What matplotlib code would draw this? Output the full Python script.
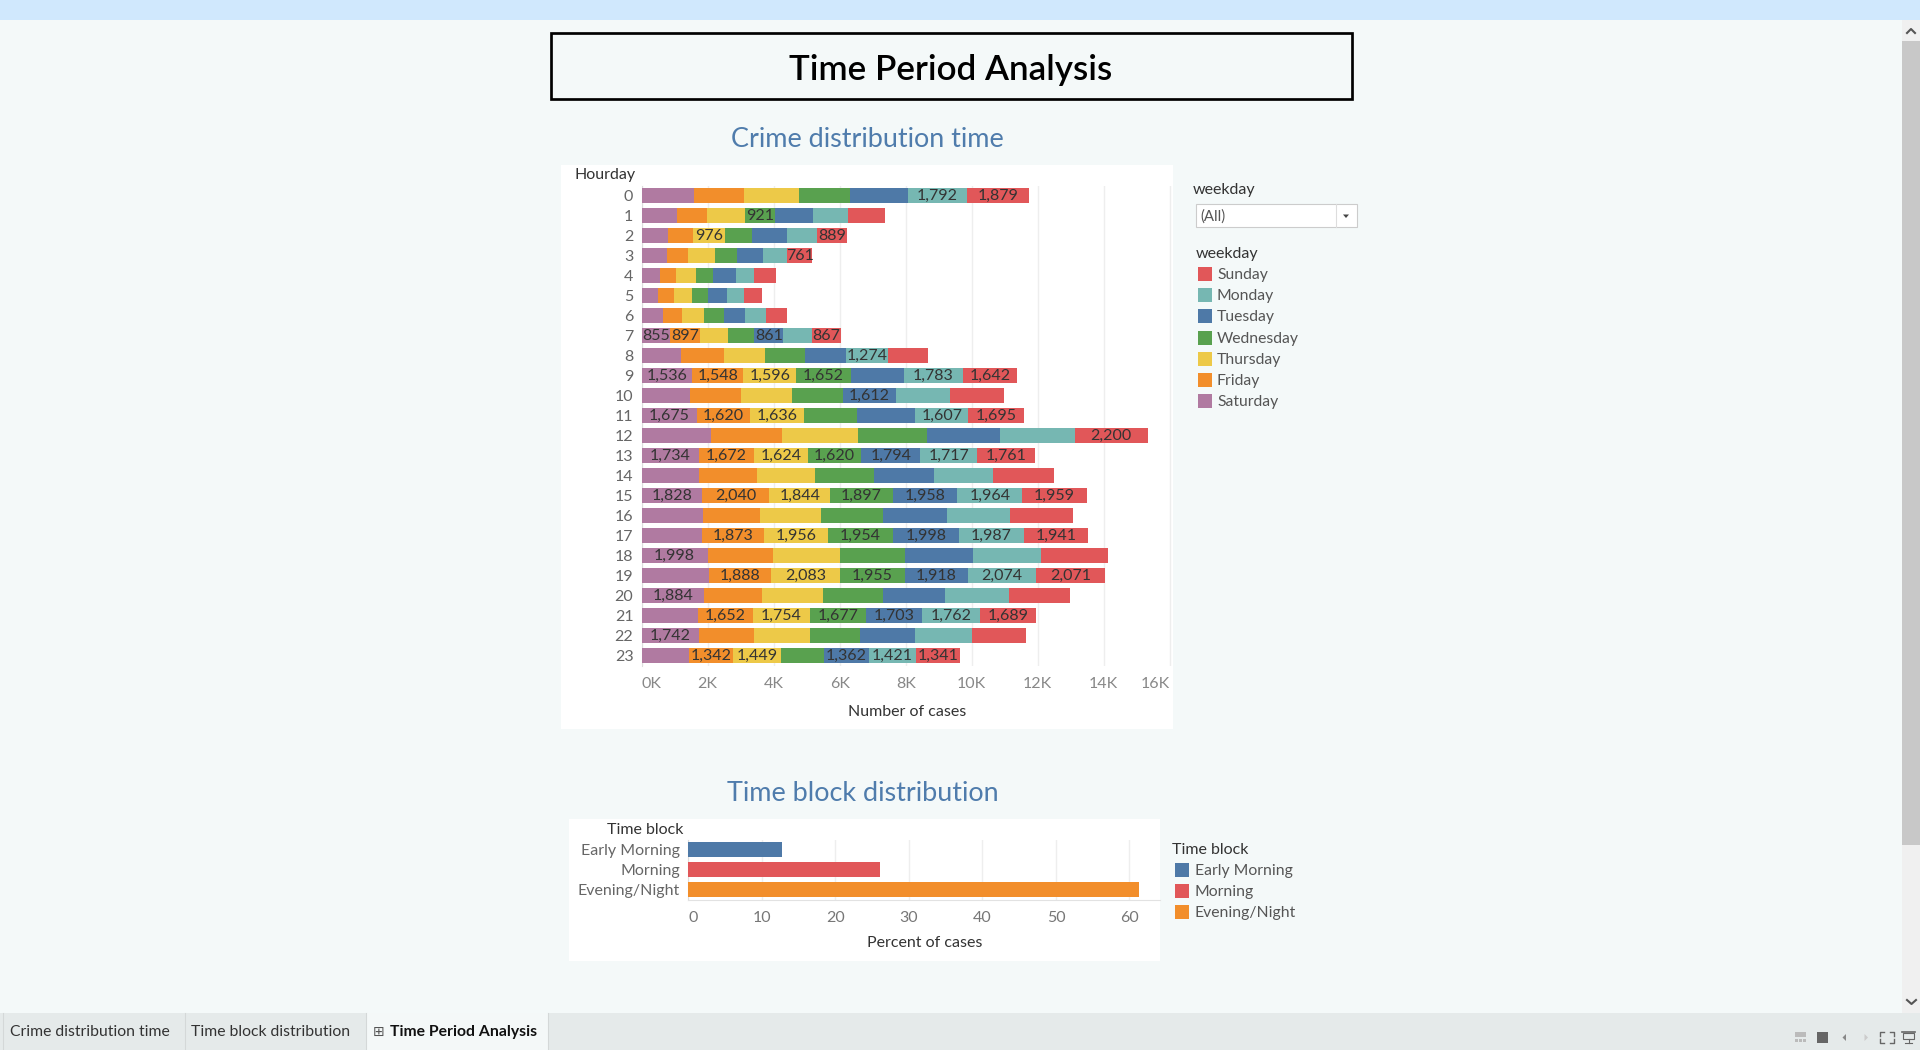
import matplotlib
matplotlib.use('Agg')
import matplotlib.pyplot as plt
from matplotlib.patches import Rectangle, Polygon

# ---------------- data ----------------
hours = list(range(24))
stack_order = ['Saturday', 'Friday', 'Thursday', 'Wednesday', 'Tuesday', 'Monday', 'Sunday']
legend_order = ['Sunday', 'Monday', 'Tuesday', 'Wednesday', 'Thursday', 'Friday', 'Saturday']
day_colors = {'Sunday': '#e15759', 'Monday': '#76b7b2', 'Tuesday': '#4e79a7',
              'Wednesday': '#59a14f', 'Thursday': '#edc948', 'Friday': '#f28e2b',
              'Saturday': '#b07aa1'}

saturday = [1586, 1071, 798, 768, 556, 495, 646, 855, 1192, 1536, 1465, 1675,
            2101, 1734, 1737, 1828, 1858, 1828, 1998, 2040, 1884, 1707, 1742, 1434]
friday = [1515, 909, 758, 636, 485, 485, 576, 897, 1303, 1548, 1545, 1620,
          2151, 1672, 1757, 2040, 1727, 1873, 1970, 1888, 1757, 1652, 1667, 1342]
thursday = [1667, 1151, 976, 818, 606, 545, 667, 848, 1242, 1596, 1545, 1636,
            2303, 1624, 1757, 1844, 1848, 1956, 2030, 2083, 1848, 1754, 1697, 1449]
wednesday = [1545, 921, 818, 667, 515, 485, 606, 818, 1212, 1652, 1545, 1606,
             2091, 1620, 1788, 1897, 1879, 1954, 1970, 1955, 1818, 1677, 1515, 1303]
tuesday = [1757, 1151, 1060, 788, 697, 576, 636, 861, 1242, 1616, 1612, 1757,
           2212, 1794, 1818, 1958, 1939, 1998, 2060, 1918, 1879, 1703, 1667, 1362]
monday = [1792, 1060, 909, 727, 545, 515, 636, 879, 1274, 1783, 1636, 1607,
          2272, 1717, 1788, 1964, 1909, 1987, 2060, 2074, 1939, 1762, 1727, 1421]
sunday = [1879, 1121, 889, 761, 667, 545, 636, 867, 1212, 1642, 1636, 1695,
          2200, 1761, 1848, 1959, 1909, 1941, 2030, 2071, 1848, 1689, 1636, 1341]

day_values = {'Saturday': saturday, 'Friday': friday, 'Thursday': thursday,
              'Wednesday': wednesday, 'Tuesday': tuesday, 'Monday': monday,
              'Sunday': sunday}

# which segments carry a mark label in the reference (Sa Fr Th We Tu Mo Su)
labeled = [
    'Mo Su', 'We', 'Th Su', 'Su', '', '', '', 'Sa Fr Tu Su',
    'Mo', 'Sa Fr Th We Mo Su', 'Tu', 'Sa Fr Th Mo Su', 'Su',
    'Sa Fr Th We Tu Mo Su', '', 'Sa Fr Th We Tu Mo Su', '',
    'Fr Th We Tu Mo Su', 'Sa', 'Fr Th We Tu Mo Su', 'Sa',
    'Fr Th We Tu Mo Su', 'Sa', 'Fr Th Tu Mo Su']

x_ticks = [0, 2000, 4000, 6000, 8000, 10000, 12000, 14000, 16000]
x_tick_labels = ['0K', '2K', '4K', '6K', '8K', '10K', '12K', '14K', '16K']

time_blocks = ['Early Morning', 'Morning', 'Evening/Night']
time_block_pct = [12.7, 26.0, 61.3]
time_block_colors = {'Early Morning': '#4e79a7', 'Morning': '#e15759',
                     'Evening/Night': '#f28e2b'}
pct_ticks = [0, 10, 20, 30, 40, 50, 60]

tabs = ['Crime distribution time', 'Time block distribution', 'Time Period Analysis']

# ---------------- layout helpers ----------------
W, H = 1920, 1050
FONT = ['Lato', 'DejaVu Sans']
plt.rcParams['font.family'] = FONT


def rect(x0, y0, x1, y1):
    return [x0 / W, 1 - y1 / H, (x1 - x0) / W, (y1 - y0) / H]


def px(p):  # pixels to points
    return p * 0.72


BG = '#f4f9f9'
fig = plt.figure(figsize=(W / 100, H / 100), dpi=100, facecolor=BG)

ov = fig.add_axes([0, 0, 1, 1], zorder=0)
ov.set_xlim(0, W)
ov.set_ylim(H, 0)
ov.axis('off')

# top band
ov.add_patch(Rectangle((0, 0), W, 20, facecolor='#d0e8fd', edgecolor='none'))
# title box
ov.add_patch(Rectangle((551, 33), 801, 66, facecolor='none', edgecolor='black',
                       linewidth=px(2.7)))
ov.text(951, 70.5, 'Time Period Analysis', ha='center', va='center',
        fontsize=px(35), color='black', fontweight='semibold')
# subtitles
ov.text(867, 139.5, 'Crime distribution time', ha='center', va='center',
        fontsize=px(27), color='#4f7cac')
ov.text(863, 793.5, 'Time block distribution', ha='center', va='center',
        fontsize=px(27), color='#4f7cac')
# white panels
ov.add_patch(Rectangle((561, 165), 612, 564, facecolor='white', edgecolor='none'))
ov.add_patch(Rectangle((569, 819), 591, 142, facecolor='white', edgecolor='none'))

# header labels
ov.text(636, 175.5, 'Hourday', ha='right', va='center', fontsize=px(16), color='#333333')
ov.text(683, 829.5, 'Time block', ha='right', va='center', fontsize=px(16), color='#333333')

# ---------------- chart 1: stacked bars ----------------
ax1 = fig.add_axes(rect(641.7, 185.5, 1173, 665.5), zorder=2)
ax1.set_facecolor('white')
left = [0] * 24
abbr = {'Saturday': 'Sa', 'Friday': 'Fr', 'Thursday': 'Th', 'Wednesday': 'We',
        'Tuesday': 'Tu', 'Monday': 'Mo', 'Sunday': 'Su'}
for day in stack_order:
    vals = day_values[day]
    ax1.barh(hours, vals, left=left, height=0.75, color=day_colors[day],
             edgecolor='none', zorder=3)
    for h in hours:
        if abbr[day] in labeled[h].split():
            ax1.text(left[h] + vals[h] / 2, h, f'{vals[h]:,}', ha='center',
                     va='center', fontsize=px(16), color='#333333', zorder=4)
    left = [l + v for l, v in zip(left, vals)]

ax1.set_xlim(0, 16100)
ax1.set_ylim(23.5, -0.5)
ax1.set_yticks(hours)
ax1.set_yticklabels([str(h) for h in hours])
ax1.set_xticks(x_ticks)
ax1.set_xticklabels(x_tick_labels)
ax1.tick_params(axis='y', length=0, pad=6, labelsize=px(16), labelcolor='#666666')
ax1.tick_params(axis='x', length=0, pad=8.5, labelsize=px(16), labelcolor='#888888')
xl = ax1.get_xticklabels()
xl[0].set_ha('left')
xl[-1].set_ha('right')
ax1.grid(axis='x', color='#eeeeee', linewidth=1, zorder=0)
ax1.set_axisbelow(True)
for s in ['top', 'right', 'bottom']:
    ax1.spines[s].set_visible(False)
ax1.spines['left'].set_color('#dddddd')
ax1.set_xlabel('Number of cases', fontsize=px(16), color='#333333', labelpad=10)

# ---------------- chart 2: time block ----------------
ax2 = fig.add_axes(rect(688.4, 839.5, 1160, 899.5), zorder=2)
ax2.set_facecolor('white')
ax2.barh(range(len(time_blocks)), time_block_pct, height=0.75,
         color=[time_block_colors[t] for t in time_blocks], edgecolor='none', zorder=3)
ax2.set_xlim(0, 64.15)
ax2.set_ylim(2.5, -0.5)
ax2.set_yticks(range(len(time_blocks)))
ax2.set_yticklabels(time_blocks)
ax2.set_xticks(pct_ticks)
ax2.set_xticklabels([str(t) for t in pct_ticks])
ax2.tick_params(axis='y', length=0, pad=6, labelsize=px(16), labelcolor='#666666')
ax2.tick_params(axis='x', length=0, pad=8.5, labelsize=px(16), labelcolor='#777777')
ax2.get_xticklabels()[0].set_ha('left')
ax2.grid(axis='x', color='#eeeeee', linewidth=1, zorder=0)
ax2.set_axisbelow(True)
for s in ['top', 'right']:
    ax2.spines[s].set_visible(False)
ax2.spines['left'].set_color('#dddddd')
ax2.spines['bottom'].set_color('#e2e2e2')
ax2.set_xlabel('Percent of cases', fontsize=px(16), color='#333333', labelpad=8)

# ---------------- filter + legends ----------------
ov.text(1193, 190, 'weekday', ha='left', va='center', fontsize=px(16), color='#333333')
ov.add_patch(Rectangle((1196, 204), 161, 23, facecolor='white', edgecolor='#cccccc',
                       linewidth=0.8))
ov.plot([1335.7, 1335.7], [204, 227], color='#dddddd', linewidth=0.8)
ov.add_patch(Polygon([[1343, 214.5], [1349, 214.5], [1346, 218]], closed=True,
                     facecolor='#444444', edgecolor='none'))
ov.text(1200, 216.5, '(All)', ha='left', va='center', fontsize=px(15), color='#555555')

ov.text(1196, 254, 'weekday', ha='left', va='center', fontsize=px(16), color='#333333')
for i, day in enumerate(legend_order):
    y = 274.3 + i * 21.07
    ov.add_patch(Rectangle((1198, y - 7), 14, 14, facecolor=day_colors[day],
                           edgecolor='none'))
    ov.text(1217, y + 1, day, ha='left', va='center', fontsize=px(15.8), color='#555555')

ov.text(1172, 850, 'Time block', ha='left', va='center', fontsize=px(16), color='#333333')
for i, tb in enumerate(time_blocks):
    y = 870.3 + i * 21
    ov.add_patch(Rectangle((1175, y - 7), 14, 14, facecolor=time_block_colors[tb],
                           edgecolor='none'))
    ov.text(1195, y + 1, tb, ha='left', va='center', fontsize=px(15.8), color='#555555')

# ---------------- scrollbar ----------------
ov.add_patch(Rectangle((1902, 20), 18, 993, facecolor='#f0f0f0', edgecolor='none'))
ov.add_patch(Rectangle((1902, 41), 18, 804, facecolor='#c8c8c8', edgecolor='none'))
ov.plot([1907, 1911, 1915], [33, 29, 33], color='#555555', linewidth=1.5)
ov.plot([1907, 1911.5, 1916], [1000, 1004, 1000], color='#555555', linewidth=1.5)

# ---------------- bottom tabs ----------------
ov.add_patch(Rectangle((0, 1013), W, 37, facecolor='#e5eaea', edgecolor='none'))
ov.add_patch(Rectangle((366, 1013), 182, 37, facecolor='#f4f8f8', edgecolor='none'))
for xs in [3, 184.5, 366, 548]:
    ov.plot([xs, xs], [1013, 1050], color='#d4d8d8', linewidth=0.8)
ov.text(9.5, 1032, tabs[0], ha='left', va='center', fontsize=px(15.7), color='#333333')
ov.text(191, 1032, tabs[1], ha='left', va='center', fontsize=px(15.7), color='#333333')
ov.text(373, 1032, '\u229e', ha='left', va='center', fontsize=px(14), color='#555555',
        family=['DejaVu Sans'])
ov.text(390, 1032, tabs[2], ha='left', va='center', fontsize=px(15.8), color='#111111',
        fontweight='bold')

# bottom-right toolbar icons
ov.add_patch(Rectangle((1795, 1032), 11, 5, facecolor='#bbbbbb', edgecolor='none'))
for k in range(3):
    ov.add_patch(Rectangle((1795 + k * 4, 1039), 3, 2.5, facecolor='#bbbbbb',
                           edgecolor='none'))
ov.add_patch(Rectangle((1817, 1032), 11, 11, facecolor='#666666', edgecolor='none'))
ov.add_patch(Polygon([[1846, 1034], [1846, 1041], [1842.5, 1037.5]], closed=True,
                     facecolor='#888888', edgecolor='none'))
ov.add_patch(Polygon([[1864.5, 1034], [1864.5, 1041], [1868, 1037.5]], closed=True,
                     facecolor='#cccccc', edgecolor='none'))
for (cx, cy, dx, dy) in [(1880, 1032, 1, 1), (1894, 1032, -1, 1),
                         (1880, 1043, 1, -1), (1894, 1043, -1, -1)]:
    ov.plot([cx + 4 * dx, cx, cx], [cy, cy, cy + 4 * dy], color='#666666', linewidth=1)
ov.plot([1902, 1915], [1032, 1032], color='#666666', linewidth=1.2)
ov.add_patch(Rectangle((1903, 1033), 11, 6, facecolor='none', edgecolor='#666666',
                       linewidth=0.8))
ov.plot([1908.5, 1908.5], [1039, 1043], color='#666666', linewidth=0.8)
ov.plot([1905, 1912], [1043, 1043], color='#666666', linewidth=0.8)

fig.savefig('out.png', dpi=100, facecolor=BG)
